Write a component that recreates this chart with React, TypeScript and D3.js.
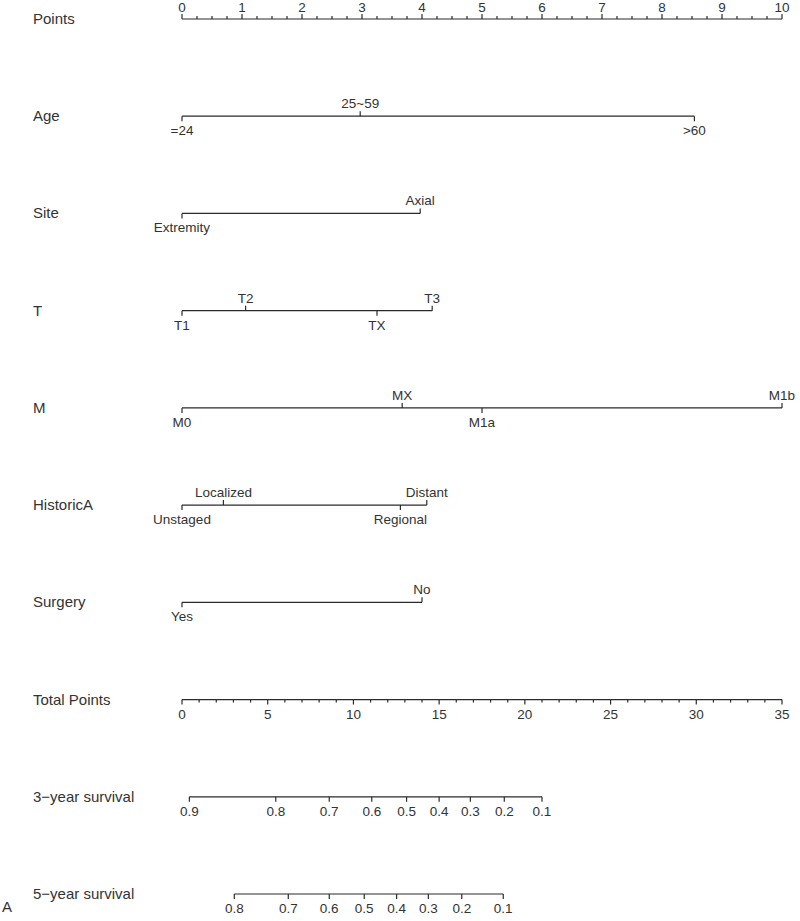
import React from 'react';
import * as d3 from 'd3';

// nomogram values
const pointTicks = [0, 1, 2, 3, 4, 5, 6, 7, 8, 9, 10];
const totalTicks = [0, 5, 10, 15, 20, 25, 30, 35];

const ageLevels = ['=24', '25~59', '>60'];
const agePoints = [0, 2.97, 8.54];
const siteLevels = ['Extremity', 'Axial'];
const sitePoints = [0, 3.97];
const tLevels = ['T1', 'T2', 'TX', 'T3'];
const tPoints = [0, 1.06, 3.25, 4.17];
const mLevels = ['M0', 'MX', 'M1a', 'M1b'];
const mPoints = [0, 3.67, 5.0, 10];
const histLevels = ['Unstaged', 'Localized', 'Regional', 'Distant'];
const histPoints = [0, 0.69, 3.64, 4.08];
const surgLevels = ['Yes', 'No'];
const surgPoints = [0, 4.0];

const surv3Labels = ['0.9', '0.8', '0.7', '0.6', '0.5', '0.4', '0.3', '0.2', '0.1'];
const surv3Total = [0.43, 5.47, 8.59, 11.07, 13.1, 15.0, 16.82, 18.8, 21.0];
const surv5Labels = ['0.8', '0.7', '0.6', '0.5', '0.4', '0.3', '0.2', '0.1'];
const surv5Total = [3.05, 6.2, 8.59, 10.63, 12.52, 14.37, 16.32, 18.74];

const rowNames = ['Points', 'Age', 'Site', 'T', 'M', 'HistoricA', 'Surgery', 'Total Points', '3\u2212year survival', '5\u2212year survival'];

const W = 800;
const H = 921;
const ink = '#2b2b2b';
const txt = '#333';
const font = '"Liberation Sans", Arial, sans-serif';

export default function App() {
  const x = d3.scaleLinear().domain([0, 10]).range([182, 782]);
  const xt = d3.scaleLinear().domain([0, 35]).range([182, 782]);
  const y = d3.scalePoint<number>().domain(d3.range(rowNames.length)).range([19, 894]);

  const variables = [
    { levels: ageLevels, pts: agePoints },
    { levels: siteLevels, pts: sitePoints },
    { levels: tLevels, pts: tPoints },
    { levels: mLevels, pts: mPoints },
    { levels: histLevels, pts: histPoints },
    { levels: surgLevels, pts: surgPoints },
  ];

  const pointMinor = d3.range(0, 10.001, 0.25);
  const totalMinor = d3.range(0, 35.001, 1);

  const y0 = y(0)!;
  const yT = y(7)!;
  const fs = 13.5;

  return (
    <svg width={W} height={H} style={{ position: 'absolute', left: 0, top: 0, background: '#fff' }}
      fontFamily={font}>
      <rect width={W} height={H} fill="#fff" />
      {/* row labels */}
      {rowNames.map((n, i) => (
        <text key={n} x={33} y={y(i)! + 5} fontSize={15} fill={txt}>{n}</text>
      ))}
      <text x={2} y={912} fontSize={15} fill={txt}>A</text>

      {/* points axis */}
      <g stroke={ink} strokeWidth={1.2}>
        <line x1={x(0)} x2={x(10)} y1={y0} y2={y0} />
        {pointMinor.map(v => (
          <line key={v} x1={x(v)} x2={x(v)} y1={y0} y2={y0 - (Number.isInteger(v) ? 5 : 3)} />
        ))}
      </g>
      {pointTicks.map(v => (
        <text key={v} x={x(v)} y={y0 - 7} fontSize={fs} textAnchor="middle" fill={txt}>{v}</text>
      ))}

      {/* variable rows */}
      {variables.map((vr, i) => {
        const yy = y(i + 1)!;
        const order = d3.range(vr.pts.length).sort((a, b) => vr.pts[a] - vr.pts[b]);
        const ext = d3.extent(vr.pts) as [number, number];
        return (
          <g key={i}>
            <line x1={x(ext[0])} x2={x(ext[1])} y1={yy} y2={yy} stroke={ink} strokeWidth={1.2} />
            {order.map((k, j) => {
              const up = j % 2 === 1;
              const px = x(vr.pts[k]);
              return (
                <g key={k}>
                  <line x1={px} x2={px} y1={yy} y2={up ? yy - 5 : yy + 5} stroke={ink} strokeWidth={1.2} />
                  <text x={px} y={up ? yy - 8 : yy + 19} fontSize={fs} textAnchor="middle" fill={txt}>
                    {vr.levels[k]}
                  </text>
                </g>
              );
            })}
          </g>
        );
      })}

      {/* total points axis */}
      <g stroke={ink} strokeWidth={1.2}>
        <line x1={xt(0)} x2={xt(35)} y1={yT} y2={yT} />
        {totalMinor.map(v => (
          <line key={v} x1={xt(v)} x2={xt(v)} y1={yT} y2={yT + (v % 5 === 0 ? 5 : 3)} />
        ))}
      </g>
      {totalTicks.map(v => (
        <text key={v} x={xt(v)} y={yT + 19} fontSize={fs} textAnchor="middle" fill={txt}>{v}</text>
      ))}

      {/* survival axes */}
      {[{ labels: surv3Labels, tot: surv3Total, row: 8 }, { labels: surv5Labels, tot: surv5Total, row: 9 }].map(s => {
        const yy = y(s.row)!;
        return (
          <g key={s.row}>
            <line x1={xt(s.tot[0])} x2={xt(s.tot[s.tot.length - 1])} y1={yy} y2={yy} stroke={ink} strokeWidth={1.2} />
            {s.tot.map((t, k) => (
              <g key={k}>
                <line x1={xt(t)} x2={xt(t)} y1={yy} y2={yy + 5} stroke={ink} strokeWidth={1.2} />
                <text x={xt(t)} y={yy + 19} fontSize={fs} textAnchor="middle" fill={txt}>{s.labels[k]}</text>
              </g>
            ))}
          </g>
        );
      })}
    </svg>
  );
}
